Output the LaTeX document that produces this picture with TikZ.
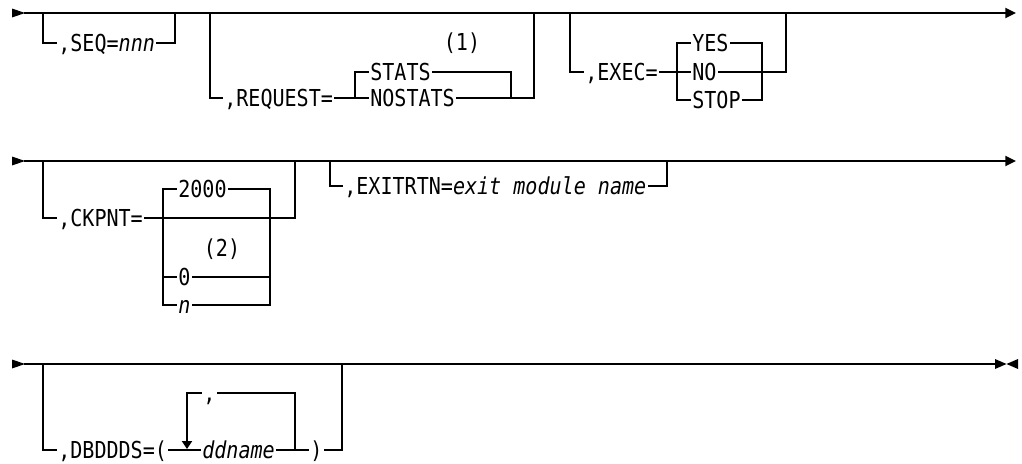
\documentclass[tikz,border=0pt]{standalone}
\usepackage{fontspec}
\newfontfamily\railfont[FakeStretch=0.86]{DejaVu Sans Mono}
\usetikzlibrary{arrows.meta}
\tikzset{
  rail/.style={line width=1.35pt, line cap=rect},
  lbl/.style={font=\railfont\fontsize{17.5}{20}\selectfont, inner xsep=1.5pt, inner ysep=0pt,
              text height=12.75pt, text depth=0pt, anchor=west},
  note/.style={lbl, anchor=center},
  tipfill/.style={fill=black}
}
\begin{document}
\begin{tikzpicture}[x=0.75pt,y=-0.75pt]
\useasboundingbox (0,0) rectangle (1022,464);

% ---------------- Row 1 ----------------
\coordinate (a1) at (25,13);
\coordinate (z1) at (1016,13);
\fill[tipfill] (12,8.5) -- (a1) -- (12,17.5) -- cycle;
\draw[rail,-{Triangle[length=8pt,width=7.5pt]}] (a1) -- (z1);

% SEQ
\coordinate (s1) at (43,13);
\coordinate (s2) at (43,43);
\node[lbl] (seq) at (56,43) {,SEQ=\textit{nnn}};
\coordinate (s3) at (175,43);
\coordinate (s4) at (175,13);
\draw[rail] (s1) -- (s2) -- (seq.west);
\draw[rail] (seq.east) -- (s3) -- (s4);

% REQUEST
\coordinate (r1) at (210,13);
\coordinate (r2) at (210,98);
\node[lbl] (req) at (222,98) {,REQUEST=};
\coordinate (b1) at (355,98);
\coordinate (b2) at (355,72);
\node[lbl] (stats) at (368,72) {STATS};
\node[lbl] (nostats) at (368,98) {NOSTATS};
\node[note] (n1) at (462,42) {(1)};
\coordinate (b3) at (511,72);
\coordinate (b4) at (511,98);
\coordinate (r3) at (534,98);
\coordinate (r4) at (534,13);
\draw[rail] (r1) -- (r2) -- (req.west);
\draw[rail] (req.east) -- (b1) -- (nostats.west);
\draw[rail] (b1) -- (b2) -- (stats.west);
\draw[rail] (stats.east) -- (b3) -- (b4);
\draw[rail] (nostats.east) -- (b4) -- (r3) -- (r4);

% EXEC
\coordinate (e1) at (570,13);
\coordinate (e2) at (570,72);
\node[lbl] (exec) at (583,72) {,EXEC=};
\coordinate (x1) at (677,72);
\coordinate (x2) at (677,43);
\coordinate (x5) at (677,100);
\node[lbl] (yes) at (690,43) {YES};
\node[lbl] (no) at (690,72) {NO};
\node[lbl] (stop) at (690,100) {STOP};
\coordinate (x3) at (762,43);
\coordinate (x4) at (762,72);
\coordinate (x6) at (762,100);
\coordinate (e3) at (786,72);
\coordinate (e4) at (786,13);
\draw[rail] (e1) -- (e2) -- (exec.west);
\draw[rail] (exec.east) -- (x1) -- (no.west);
\draw[rail] (x2) -- (x5);
\draw[rail] (x2) -- (yes.west);
\draw[rail] (x5) -- (stop.west);
\draw[rail] (yes.east) -- (x3) -- (x6) -- (stop.east);
\draw[rail] (no.east) -- (x4) -- (e3) -- (e4);

% ---------------- Row 2 ----------------
\coordinate (a2) at (25,161);
\coordinate (z2) at (1016,161);
\fill[tipfill] (12,156.5) -- (a2) -- (12,165.5) -- cycle;
\draw[rail,-{Triangle[length=8pt,width=7.5pt]}] (a2) -- (z2);

% CKPNT
\coordinate (k1) at (43,161);
\coordinate (k2) at (43,218);
\node[lbl] (ckpnt) at (56,218) {,CKPNT=};
\coordinate (p2) at (163,189);
\coordinate (p3) at (163,277);
\coordinate (p4) at (163,305);
\coordinate (q1) at (270,189);
\coordinate (q3) at (270,277);
\coordinate (q4) at (270,305);
\node[lbl] (v2000) at (176,189) {2000};
\node[note] (n2) at (222,248) {(2)};
\node[lbl] (zero) at (176,277) {0};
\node[lbl] (nn) at (176,305) {\textit{n}};
\coordinate (k3) at (295,218);
\coordinate (k4) at (295,161);
\draw[rail] (k1) -- (k2) -- (ckpnt.west);
\draw[rail] (ckpnt.east) -- (k3) -- (k4);
\draw[rail] (p2) -- (p4);
\draw[rail] (q1) -- (q4);
\draw[rail] (p2) -- (v2000.west);
\draw[rail] (v2000.east) -- (q1);
\draw[rail] (p3) -- (zero.west);
\draw[rail] (zero.east) -- (q3);
\draw[rail] (p4) -- (nn.west);
\draw[rail] (nn.east) -- (q4);

% EXITRTN
\coordinate (t1) at (330,161);
\coordinate (t2) at (330,186);
\node[lbl] (exit) at (342,186) {,EXITRTN=\textit{exit module name}};
\coordinate (t3) at (667,186);
\coordinate (t4) at (667,161);
\draw[rail] (t1) -- (t2) -- (exit.west);
\draw[rail] (exit.east) -- (t3) -- (t4);

% ---------------- Row 3 ----------------
\coordinate (a3) at (25,364);
\coordinate (z3) at (995,364);
\fill[tipfill] (12,359.5) -- (a3) -- (12,368.5) -- cycle;
\draw[rail] (a3) -- (z3);
\fill[tipfill] (995,359) -- (1006.5,364) -- (995,369) -- cycle;
\fill[tipfill] (1018,359) -- (1006.5,364) -- (1018,369) -- cycle;

% DBDDDS
\coordinate (d1) at (43,364);
\coordinate (d2) at (43,450);
\node[lbl] (dbd) at (56,450) {,DBDDDS=(};
\node[lbl] (ddn) at (200,450) {\textit{ddname}};
\node[lbl] (rp) at (308,450) {)};
\coordinate (d3) at (342,450);
\coordinate (d4) at (342,364);
\draw[rail] (d1) -- (d2) -- (dbd.west);
\draw[rail] (dbd.east) -- (ddn.west);
\draw[rail] (ddn.east) -- (rp.west);
\draw[rail] (rp.east) -- (d3) -- (d4);

% repeat loop
\coordinate (l1) at (187,449);
\coordinate (l2) at (187,393);
\node[lbl] (comma) at (201,393) {,};
\coordinate (l3) at (295,393);
\coordinate (l4) at (295,450);
\draw[rail] (l4) -- (l3) -- (comma.east);
\draw[rail,-{Triangle[length=6pt,width=7.5pt]}] (comma.west) -- (l2) -- (l1);
\end{tikzpicture}
\end{document}
